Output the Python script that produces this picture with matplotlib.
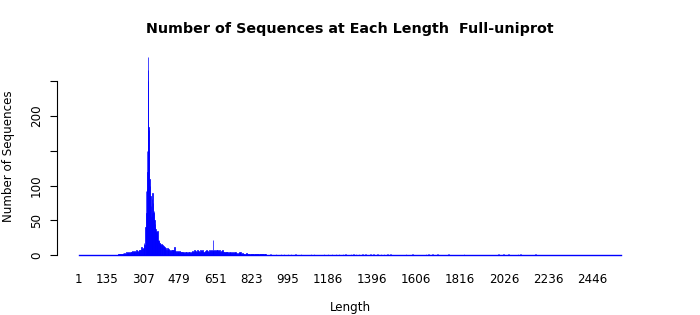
import numpy as np
import matplotlib
matplotlib.use('Agg')
import matplotlib.pyplot as plt

# sequence lengths (dense part) and number of sequences at each length
dense_len = [186, 190, 194, 198, 202, 206, 210, 214, 218, 222, 226, 230, 234, 238, 242,
             246, 250, 254, 258, 262, 266, 270, 274, 278, 282, 286, 290, 294, 298, 302,
             306, 310, 314, 318, 320, 322, 324, 326, 328, 330, 331, 332, 333, 334, 336,
             338, 340, 342, 344, 346, 348, 350, 352, 354, 356, 358, 360, 362, 364, 366,
             368, 370, 372, 374, 376, 378, 380, 382, 384, 386, 388, 390, 393, 396, 399,
             402, 405, 408, 411, 414, 417, 420, 424, 428, 432, 436, 440, 444, 448, 452,
             456, 460, 464, 468, 472, 476, 480, 485, 490, 495, 500, 505, 510, 515, 520,
             525, 530, 535, 540, 545, 550, 555, 560, 565, 570, 575, 580, 585, 590, 595,
             600, 605, 610, 615, 620, 625, 630, 635, 638, 640, 642, 645, 650, 655, 660,
             665, 670, 675, 680, 685, 690, 695, 700, 706, 712, 718, 724, 730, 736, 742,
             748, 754, 760, 766, 772, 778, 784, 790, 796, 802, 808, 814, 820, 826, 832,
             838, 844, 850, 856, 862, 868, 874, 880, 886, 892]
dense_cnt = [1, 2, 1, 2, 2, 1, 3, 2, 3, 2, 4, 3, 3, 4, 3,
             5, 4, 6, 5, 4, 6, 5, 7, 6, 5, 7, 8, 7, 12, 9,
             10, 17, 14, 40, 92, 60, 95, 150, 120, 266, 285, 251, 184, 180, 150,
             110, 100, 85, 70, 55, 60, 80, 89, 75, 60, 64, 50, 45, 40, 38,
             35, 33, 30, 28, 35, 22, 20, 21, 17, 18, 15, 14, 16, 12, 15,
             13, 11, 12, 9, 10, 8, 10, 7, 9, 8, 6, 8, 7, 6, 8,
             12, 6, 5, 6, 4, 5, 6, 4, 5, 4, 3, 5, 4, 3, 5,
             4, 3, 5, 6, 5, 7, 6, 5, 7, 6, 5, 7, 6, 7, 5,
             6, 7, 6, 5, 7, 6, 8, 6, 7, 21, 6, 7, 6, 8, 7,
             6, 7, 5, 6, 7, 5, 4, 5, 4, 3, 4, 3, 4, 3, 4,
             3, 2, 3, 4, 2, 3, 2, 2, 3, 2, 2, 1, 2, 2, 1,
             2, 2, 1, 2, 1, 2, 1, 2, 1, 0]

# long tail: isolated lengths with only a few sequences
tail_len = [914, 938, 962, 976, 995, 1010, 1033, 1057, 1105, 1119, 1167, 1186, 1205,
            1224, 1238, 1257, 1271, 1295, 1309, 1319, 1333, 1352, 1366, 1390, 1404,
            1423, 1438, 1452, 1471, 1485, 1557, 1590, 1652, 1666, 1685, 1709, 1761,
            1833, 1999, 2023, 2047, 2090, 2104, 2175]
tail_cnt = [2, 1, 2, 1, 2, 1, 2, 1, 1, 2, 1, 2, 1,
            2, 1, 2, 1, 2, 1, 1, 2, 1, 2, 1, 2,
            1, 1, 2, 1, 1, 1, 1, 1, 1, 1, 1, 1,
            1, 1, 1, 1, 1, 1, 1]

min_len, max_len = 1, 2584
xtick_vals = [1, 135, 307, 479, 651, 823, 995, 1186, 1396, 1606, 1816, 2026, 2236, 2446]

blue = '#0000ff'
fs = 8.6

fig = plt.figure(figsize=(7, 3.15), dpi=100)
ax = fig.add_axes([57 / 700, 1 - 263 / 315, 586 / 700, 214 / 315])

d_len = np.array(dense_len, dtype=float)
widths = np.append(np.diff(d_len), 1)
# bars get a blue border like R's barplot, so thin bars still show
ax.bar(d_len, dense_cnt, width=widths, align='edge', color=blue,
       edgecolor=blue, linewidth=0.5)
ax.bar(tail_len, tail_cnt, width=1, align='edge', color=blue,
       edgecolor=blue, linewidth=0.5, alpha=0.6)
# zero-height bars still show their border as a baseline
ax.plot([min_len, max_len], [0, 0], color=blue, lw=1)

ymax = max(dense_cnt)
pad = 0.04 * (max_len - min_len)
ax.set_xlim(min_len - pad, max_len + pad)
ax.set_ylim(-0.04 * ymax, 1.04 * ymax)

for s in ['top', 'right', 'bottom']:
    ax.spines[s].set_visible(False)
ax.spines['left'].set_bounds(0, 250)
ax.spines['left'].set_linewidth(0.8)

ax.set_yticks([0, 50, 100, 150, 200, 250])
ax.set_yticklabels(['0', '50', '100', '', '200', ''], rotation=90, va='center')
ax.tick_params(axis='y', direction='out', length=5, width=0.8, pad=5, labelsize=fs)
ax.set_xticks(xtick_vals)
ax.set_xticklabels([str(v) for v in xtick_vals])
ax.tick_params(axis='x', length=0, pad=7.5, labelsize=fs)

fig.text(350 / 700, 1 - 29 / 315, 'Number of Sequences at Each Length  Full-uniprot',
         ha='center', va='center', fontsize=10.3, fontweight='bold')
fig.text(350 / 700, 1 - 308 / 315, 'Length', ha='center', va='center', fontsize=fs)
fig.text(9 / 700, 1 - 156 / 315, 'Number of Sequences', ha='center', va='center',
         rotation=90, fontsize=fs)

fig.savefig('out.png', dpi=100)
